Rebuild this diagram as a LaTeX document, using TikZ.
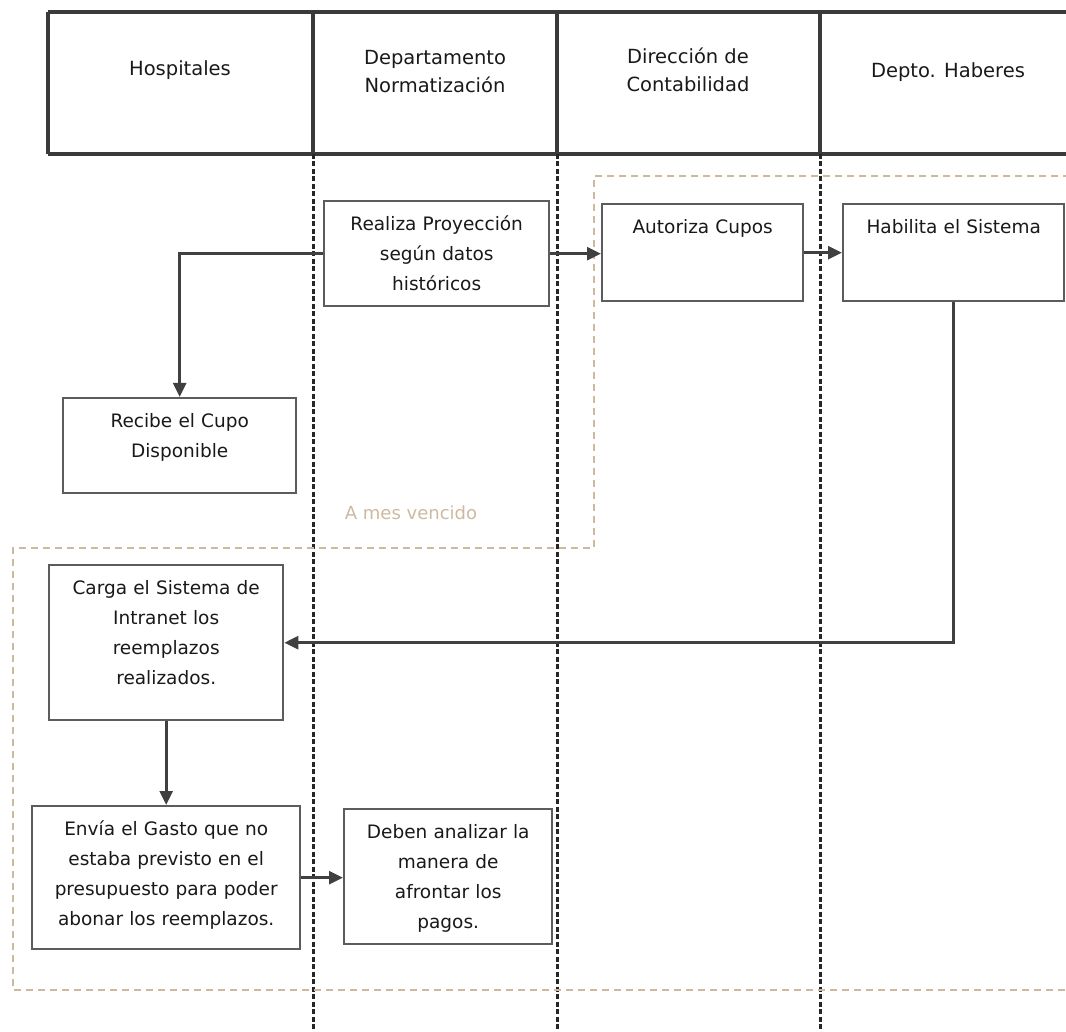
\documentclass[tikz,border=0pt]{standalone}
\usepackage{fontspec}
\setmainfont{DejaVu Sans}
\usetikzlibrary{arrows.meta, positioning, calc}
\definecolor{marco}{RGB}{58,58,58}
\definecolor{bordegris}{RGB}{92,92,92}
\definecolor{flechagris}{RGB}{64,64,64}
\definecolor{plazo}{RGB}{205,185,160}
\tikzset{
    titulo/.style={
        align=center, text=black!90,
        font=\fontsize{19.5pt}{28pt}\selectfont
    },
    proceso/.style={
        rectangle, draw=bordegris, line width=2.4pt,
        fill=white, anchor=north west, align=center,
        inner sep=0pt, text height=29.5pt, text=black!90,
        font=\fontsize{18.5pt}{30pt}\selectfont
    },
    cabecera/.style={draw=marco, line width=4pt},
    carril/.style={draw=black!85, line width=3pt, dash pattern=on 5pt off 2.5pt},
    franja/.style={draw=plazo, line width=1.5pt, dash pattern=on 7pt off 5pt},
    nota/.style={text=plazo, font=\fontsize{18pt}{22pt}\selectfont},
    flecha/.style={draw=flechagris, line width=2.8pt, -{Triangle[length=14pt, width=13pt]}}
}
\begin{document}
\begin{tikzpicture}[x=1pt, y=-1pt]
\useasboundingbox (0,0) rectangle (1066,1032);

% Header (lanes)
\draw[cabecera] (48,12) -- (1075,12) (48,154) -- (1075,154) (48,12) -- (48,154);
\draw[cabecera] (313,12) -- (313,154) (557,12) -- (557,154) (820,12) -- (820,154);
\node[titulo] (hospitales) at (180,70) {Hospitales};
\node[titulo] (normatizacion) at (435,72) {Departamento\\Normatización};
\node[titulo] (contabilidad) at (688,70) {Dirección de\\Contabilidad};
\node[titulo] (haberes) at (948,72) {Depto. Haberes};

% Lane separators
\draw[carril] (313,154) -- (313,1032);
\draw[carril] (557,154) -- (557,1032);
\draw[carril] (820,154) -- (820,1032);

% Time frames
\draw[franja] (1070,176) -- (594,176) -- (594,548) -- (13,548) -- (13,990) -- (1070,990);
\node[nota] (vencido) at (411,513) {A mes vencido};

% Tasks
\node[proceso, text width=225pt, text depth=75.5pt] (realiza) at (323,200) {Realiza Proyección\\según datos\\históricos};
\node[proceso, text width=201pt, text depth=67.5pt] (autoriza) at (601,203) {Autoriza Cupos};
\node[proceso, text width=221pt, text depth=67.5pt] (habilita) at (842,203) {Habilita el Sistema};
\node[proceso, text width=233pt, text depth=65.5pt] (recibe) at (62,397) {Recibe el Cupo\\Disponible};
\node[proceso, text width=234pt, text depth=125.5pt] (carga) at (48,564) {Carga el Sistema de\\Intranet los\\reemplazos\\realizados.};
\node[proceso, text width=268pt, text depth=113.5pt] (envia) at (31,805) {Envía el Gasto que no\\estaba previsto en el\\presupuesto para poder\\abonar los reemplazos.};
\node[proceso, text width=208pt, text depth=105.5pt] (deben) at (343,808) {Deben analizar la\\manera de\\afrontar los\\pagos.};

% Flow
\draw[flecha] (realiza.west) -| (recibe.north);
\draw[flecha] (realiza.east) -- (realiza.east -| autoriza.west);
\draw[flecha] (autoriza.east) -- (autoriza.east -| habilita.west);
\draw[flecha] (habilita.south) |- (carga.east);
\draw[flecha] (carga.south) -- (carga.south |- envia.north);
\draw[flecha] (envia.east) -- (envia.east -| deben.west);

\end{tikzpicture}
\end{document}
